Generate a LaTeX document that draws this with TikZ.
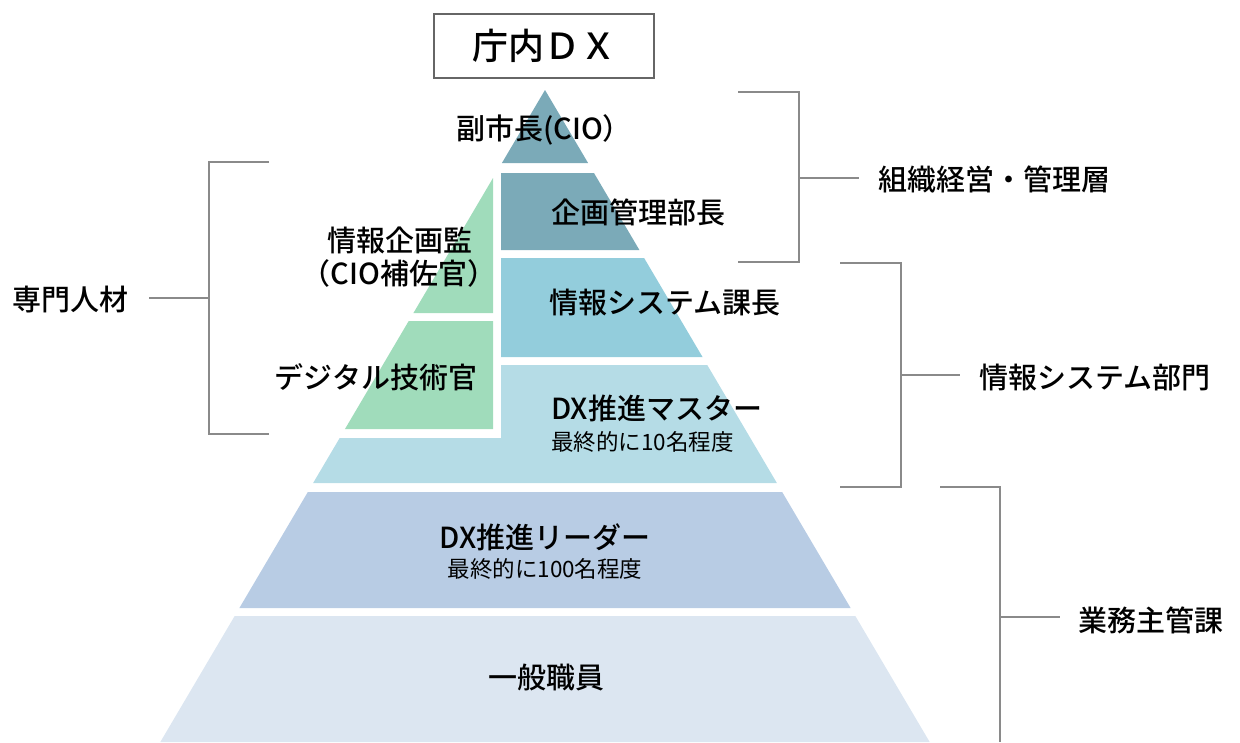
\documentclass[tikz,border=0pt]{standalone}
\usepackage{fontspec}
\setmainfont{Noto Sans CJK JP}[BoldFont={Noto Sans CJK JP Medium}]
\definecolor{cTop}{HTML}{7BAAB8}
\definecolor{cSys}{HTML}{93CDDC}
\definecolor{cMas}{HTML}{B5DCE6}
\definecolor{cGrn}{HTML}{A0DCBB}
\definecolor{cLead}{HTML}{B8CCE4}
\definecolor{cGen}{HTML}{DCE6F1}
\definecolor{cLine}{HTML}{8A8A8A}
\tikzset{
  lbl/.style={inner sep=0pt, font=\fontsize{29}{32}\selectfont\bfseries, text=black},
  sublbl/.style={inner sep=0pt, font=\fontsize{22.5}{25}\selectfont, text=black},
  sidelbl/.style={inner sep=0pt, font=\fontsize{29}{32}\selectfont\bfseries, text=black, anchor=west},
  brk/.style={draw=cLine, line width=1.8pt},
}
\newcommand{\LX}[1]{\fpeval{545-0.59*(#1-90)}}
\newcommand{\RX}[1]{\fpeval{545+0.59*(#1-90)}}
\begin{document}
\begin{tikzpicture}[x=1pt,y=-1pt]
\useasboundingbox (0,0) rectangle (1240,742);
% pyramid layers
\fill[cTop] (545,90) -- (\RX{163},163) -- (\LX{163},163) -- cycle;
\fill[cTop] (501,173) -- (\RX{173},173) -- (\RX{250},250) -- (501,250) -- cycle;
\fill[cSys] (501,258) -- (\RX{258},258) -- (\RX{357},357) -- (501,357) -- cycle;
\fill[cMas] (501,365) -- (\RX{365},365) -- (\RX{483},483) -- (\LX{483},483) -- (\LX{438},438) -- (501,438) -- cycle;
\fill[cGrn] (493,178) -- (493,313) -- (\LX{313},313) -- cycle;
\fill[cGrn] (493,321) -- (493,429) -- (\LX{429},429) -- (\LX{321},321) -- cycle;
\fill[cLead] (\LX{492},492) -- (\RX{492},492) -- (\RX{608},608) -- (\LX{608},608) -- cycle;
\fill[cGen] (\LX{616},616) -- (\RX{616},616) -- (\RX{742},742) -- (\LX{742},742) -- cycle;
% title
\node[draw=black!60, line width=1.2pt, minimum width=220pt, minimum height=64pt, inner sep=0pt,
  font=\fontsize{36}{40}\selectfont\bfseries] (title) at (544,46) {庁内ＤＸ};
% labels in the pyramid
\node[lbl] (cio) at (544,130) {副市長(CIO）};
\node[lbl] (kikaku) at (638,212) {企画管理部長};
\node[lbl] (jkan) at (400,240) {情報企画監};
\node[lbl] (hosa) at (399,273) {（CIO補佐官）};
\node[lbl] (dgt) at (376,377) {デジタル技術官};
\node[lbl] (jsys) at (665,303) {情報システム課長};
\node[lbl, anchor=west] (master) at (551,408) {DX推進マスター};
\node[sublbl, anchor=west] (mastersub) at (551,442) {最終的に10名程度};
\node[lbl] (leader) at (545,537) {DX推進リーダー};
\node[sublbl] (leadersub) at (545,569) {最終的に100名程度};
\node[lbl] (gen) at (546,677) {一般職員};
% side labels
\node[sidelbl] (soshiki) at (878,179) {組織経営・管理層};
\node[sidelbl] (jbumon) at (979,378) {情報システム部門};
\node[sidelbl] (gyomu) at (1078,620) {業務主管課};
\node[sidelbl] (senmon) at (12,300) {専門人材};
% bracket coordinates
\coordinate (b1t) at (738,92);  \coordinate (b1v) at (799,92);
\coordinate (b1b) at (738,262); \coordinate (b1w) at (799,262);
\coordinate (b1m) at (799,178); \coordinate (b1e) at (859,178);
\coordinate (b2t) at (840,263); \coordinate (b2v) at (901,263);
\coordinate (b2b) at (840,487); \coordinate (b2w) at (901,487);
\coordinate (b2m) at (901,375); \coordinate (b2e) at (960,375);
\coordinate (b3t) at (940,487); \coordinate (b3v) at (1000,487);
\coordinate (b3w) at (1000,742);
\coordinate (b3m) at (1000,617); \coordinate (b3e) at (1060,617);
\coordinate (b4t) at (269,162); \coordinate (b4v) at (209,162);
\coordinate (b4b) at (269,434); \coordinate (b4w) at (209,434);
\coordinate (b4m) at (209,298); \coordinate (b4e) at (149,298);
% brackets
\draw[brk] (b1t) -- (b1v) -- (b1w) -- (b1b);
\draw[brk] (b1m) -- (b1e);
\draw[brk] (b2t) -- (b2v) -- (b2w) -- (b2b);
\draw[brk] (b2m) -- (b2e);
\draw[brk] (b3t) -- (b3v) -- (b3w);
\draw[brk] (b3m) -- (b3e);
\draw[brk] (b4t) -- (b4v) -- (b4w) -- (b4b);
\draw[brk] (b4m) -- (b4e);
\end{tikzpicture}
\end{document}
